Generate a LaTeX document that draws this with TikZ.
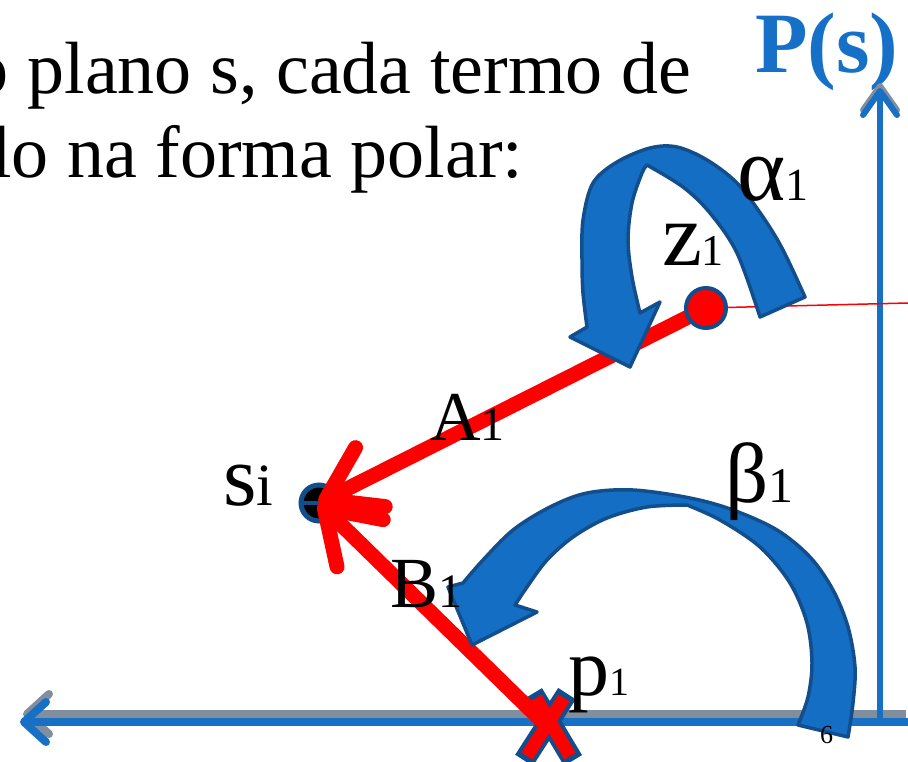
\documentclass[tikz,border=0pt]{standalone}
\usepackage{fontspec}
\setmainfont{Liberation Serif}
\usetikzlibrary{arrows.meta}
\definecolor{axblue}{RGB}{24,112,196}
\definecolor{fillblue}{RGB}{20,110,196}
\definecolor{edgeblue}{RGB}{18,78,140}
\definecolor{shadowgray}{RGB}{128,142,158}
\definecolor{ptred}{RGB}{255,0,0}
\definecolor{titleblue}{RGB}{22,112,200}
\begin{document}
\begin{tikzpicture}[x=1pt,y=-1pt,
  lab/.style={anchor=base west,inner sep=0pt,outer sep=0pt},
  bodytext/.style={lab,font=\fontsize{74}{80}\selectfont},
  vec/.style={draw=ptred,line width=15pt,-{Straight Barb[length=50pt,width=66pt,round]}},
  curvarrow/.style={fill=fillblue,draw=edgeblue,line width=3.5pt,line join=round},
  axisline/.style={draw=axblue},
  shadowline/.style={draw=shadowgray},
  sidot/.style={circle,minimum size=36pt,inner sep=0pt,fill=black,draw=edgeblue,line width=5pt},
  zdot/.style={circle,minimum size=40pt,inner sep=0pt,fill=ptred,draw=edgeblue,line width=4pt},
]
\useasboundingbox (0,0) rectangle (908,761);
\fill[white] (0,0) rectangle (908,761);

% body text
\node[bodytext] (t1) at (-28,93) {o plano s, cada termo de};
\node[bodytext] (t2) at (-9,177) {lo na forma polar:};
\node[lab,font=\bfseries\fontsize{86}{90}\selectfont,text=titleblue] (ps) at (755,72) {P(s)};

% axes
\coordinate (xg0) at (906,714);
\coordinate (xg1) at (23,714);
\coordinate (yg0) at (880,714);
\coordinate (yg1) at (880,83);
\coordinate (xb0) at (908,722);
\coordinate (xb1) at (20,722);
\coordinate (yb0) at (880,722);
\coordinate (yb1) at (880,88);
\draw[shadowline,line width=8pt,-{Straight Barb[length=22pt,width=40pt,round]}] (xg0) -- (xg1);
\draw[shadowline,line width=6pt,-{Straight Barb[length=24pt,width=34pt,round]}] (yg0) -- (yg1);
\draw[axisline,line width=8pt,-{Straight Barb[length=22pt,width=40pt,round]}] (xb0) -- (xb1);
\draw[axisline,line width=6pt,-{Straight Barb[length=24pt,width=34pt,round]}] (yb0) -- (yb1);

% points
\coordinate (z1) at (706,308);
\coordinate (redend) at (908,303);
\coordinate (p1) at (548,727);
\draw[ptred,line width=1.5pt] (z1) -- (redend);

\node[sidot] (si) at (319,503) {};
\draw[edgeblue,line width=4pt] (si.west) -- (si.east);

% pole cross
\draw[edgeblue,line width=21pt] (533,693.5) -- (573,760.5) (567,693.6) -- (524,760.4);
\draw[ptred,line width=13pt] (536,698) -- (570,756) (564,698) -- (527,756);

% vectors
\draw[vec] (p1) -- (si.center);
\draw[vec] (z1) -- (si.center);
\node[zdot] (z1d) at (z1) {};

% alpha curved arrow
\filldraw[curvarrow] plot[smooth,tension=0.55] coordinates {(805,297) (783,250) (763,217) (737,183) (707,160) (677,147) (650,148) (617,162) (593,183) (583,220) (582,260) (583,293) (587,327)}
  -- (570,337) -- (630,367) -- (660,302)
  -- plot[smooth,tension=0.55] coordinates {(640,313) (632,277) (628,240) (632,203) (642,173) (647,165)}
  -- plot[smooth,tension=0.55] coordinates {(647,165) (683,187) (710,213) (737,253) (760,317)}
  -- cycle;

% beta curved arrow
\filldraw[curvarrow] plot[smooth,tension=0.55] coordinates {(848,737) (853,703) (855,667) (848,627) (833,590) (810,557) (777,530) (733,510) (690,498) (633,490) (587,493) (550,507) (513,530) (483,560) (463,583)}
  -- (448,587) -- (472,645) -- (537,612)
  -- plot[smooth,tension=0.55] coordinates {(515,605) (527,587) (547,560) (573,537) (607,518) (647,507) (687,505)}
  -- plot[smooth,tension=0.55] coordinates {(687,505) (720,520) (760,547) (790,583) (807,623) (812,663) (808,697) (798,725)}
  -- cycle;

% labels
\node[lab] (la) at (737,200) {\fontsize{92}{92}\selectfont α\fontsize{46}{46}\selectfont 1};
\node[lab] (lz) at (662,265) {\fontsize{90}{90}\selectfont z\fontsize{44}{44}\selectfont 1};
\node[lab] (lA) at (430,440) {\fontsize{70}{70}\selectfont A\fontsize{48}{48}\selectfont 1};
\node[lab] (ls) at (223,505) {\fontsize{86}{86}\selectfont s\fontsize{60}{60}\selectfont i};
\node[lab] (lB) at (390,607) {\fontsize{72}{72}\selectfont B\fontsize{48}{48}\selectfont 1};
\node[lab] (lp) at (568,695) {\fontsize{82}{82}\selectfont p\fontsize{40}{40}\selectfont 1};
\node[lab] (lb) at (725,502) {\fontsize{85}{85}\selectfont β\fontsize{50}{50}\selectfont 1};
\node[lab] (l6) at (820,743) {\fontsize{26}{26}\selectfont 6};
\end{tikzpicture}
\end{document}
